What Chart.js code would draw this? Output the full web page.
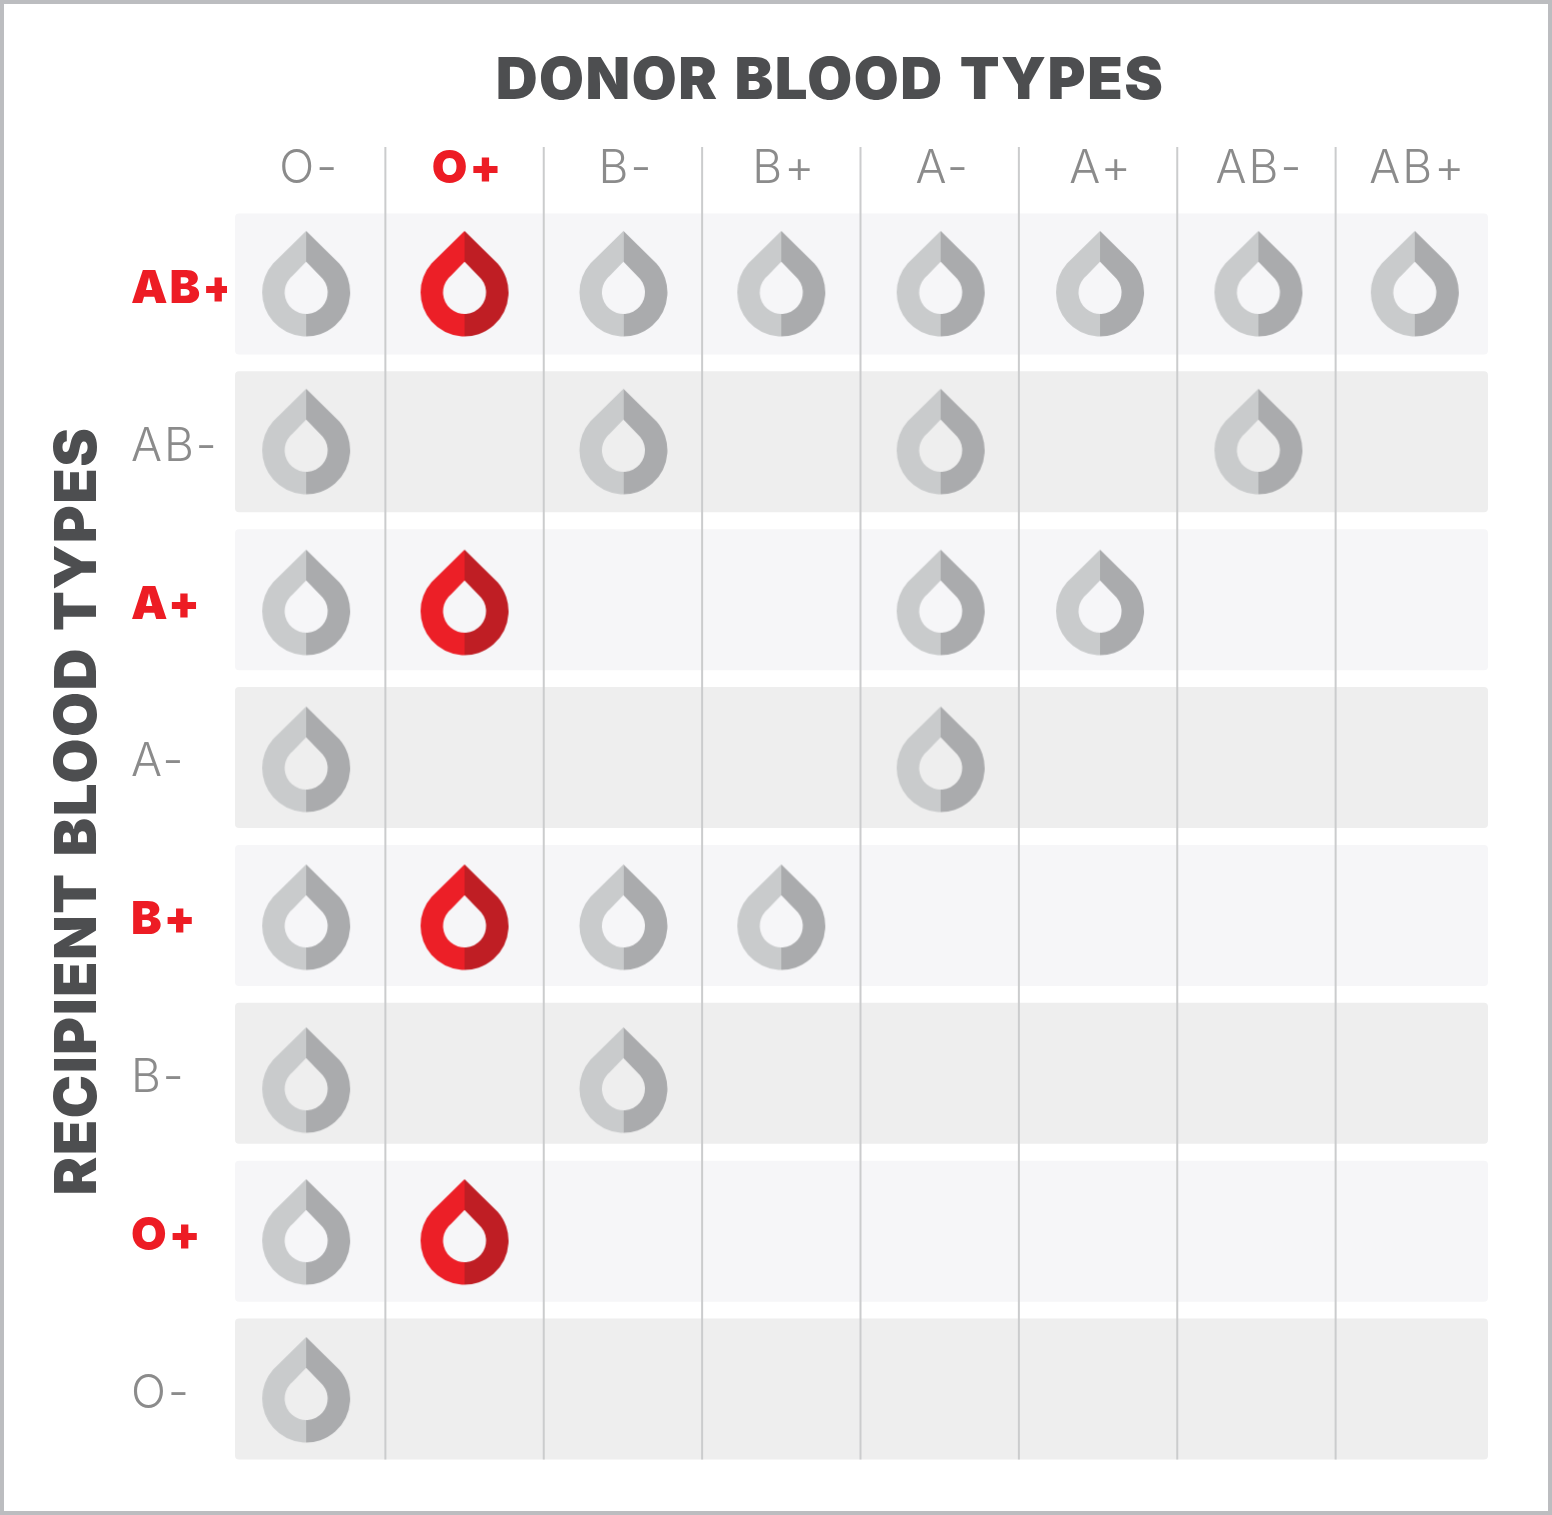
<!DOCTYPE html>
<html>
<head>
<meta charset="utf-8">
<title>Blood type compatibility</title>
<script src="https://cdn.jsdelivr.net/npm/chart.js@4"></script>
<style>
  html, body { margin: 0; background: #fff; }
  canvas { display: block; outline: 4px solid #bcbdc0; outline-offset: -4px; }
</style>
</head>
<body>
<canvas id="chart" width="1552" height="1515"></canvas>
<script>
// ── Data ──────────────────────────────────────────────────────────────────────
const donorTypes     = ['O-', 'O+', 'B-', 'B+', 'A-', 'A+', 'AB-', 'AB+'];
const recipientTypes = ['AB+', 'AB-', 'A+', 'A-', 'B+', 'B-', 'O+', 'O-'];
const redDonors      = ['O+'];
const redRecipients  = ['AB+', 'A+', 'B+', 'O+'];

// which donors each recipient can take blood from
const fromAbPos = ['O-', 'O+', 'B-', 'B+', 'A-', 'A+', 'AB-', 'AB+'];
const fromAbNeg = ['O-', 'B-', 'A-', 'AB-'];
const fromAPos  = ['O-', 'O+', 'A-', 'A+'];
const fromANeg  = ['O-', 'A-'];
const fromBPos  = ['O-', 'O+', 'B-', 'B+'];
const fromBNeg  = ['O-', 'B-'];
const fromOPos  = ['O-', 'O+'];
const fromONeg  = ['O-'];
const donorLists = [fromAbPos, fromAbNeg, fromAPos, fromANeg, fromBPos, fromBNeg, fromOPos, fromONeg];

const xTitle = 'DONOR BLOOD TYPES';
const yTitle = 'RECIPIENT BLOOD TYPES';

// ── Style ─────────────────────────────────────────────────────────────────────
const FONT       = 'Inter, "Liberation Sans", sans-serif';
const TITLE_FONT = `900 58px ${FONT}`;
const DARK       = '#4d4e50';
const GREY_TEXT  = '#8b8b8b';
const RED_TEXT   = '#ed1c24';

// the original artwork is hand placed, so drops sit a few px off the even grid
const ROW_NUDGE = [0, 0, 3, 2, 2, 7, 1, 1];
const COL_NUDGE = [0, 0, 0.5, 0, 1, 2, 2, 0];

function dropImage(leftColor, rightColor, dx, dy) {
  const c = document.createElement('canvas');
  c.width = 110; c.height = 130;
  const ctx = c.getContext('2d');
  const cx = 55 + dx, cy = 65 + 8.5 + dy; // circle centre, drop itself is centred in the canvas

  const shape = new Path2D();
  const a = Math.atan2(-29, 33);
  shape.moveTo(cx, cy - 61.5);
  shape.lineTo(cx + 33, cy - 29);
  shape.arc(cx, cy, 44, a, Math.PI - a);
  shape.closePath();
  const hole = new Path2D();
  const b = Math.atan2(-16.3, 14);
  hole.moveTo(cx, cy - 30.7);
  hole.lineTo(cx + 14, cy - 16.3);
  hole.arc(cx, cy, 21.5, b, Math.PI - b);
  hole.closePath();
  shape.addPath(hole);

  ctx.save();
  ctx.clip(shape, 'evenodd');
  ctx.fillStyle = leftColor;
  ctx.fillRect(0, 0, cx, c.height);
  ctx.fillStyle = rightColor;
  ctx.fillRect(cx, 0, c.width - cx, c.height);
  ctx.restore();
  return c;
}

function dropFor(point, left, right) {
  const dx = COL_NUDGE[donorTypes.indexOf(point.x)];
  const dy = ROW_NUDGE[recipientTypes.indexOf(point.y)];
  return dropImage(left, right, dx, dy);
}

// ── Plugin: row bands, column separators, the two big titles ──────────────────
const tablePlugin = {
  id: 'table',
  beforeDraw(chart) {
    chart.ctx.letterSpacing = '2px'; // tick labels are tracked out in the original
  },
  beforeDatasetsDraw(chart) {
    const { ctx, scales: { x, y } } = chart;
    const half = x.width / donorTypes.length / 2;
    ctx.save();
    recipientTypes.forEach((r, i) => {
      const py = y.getPixelForValue(i);
      ctx.fillStyle = i % 2 ? '#eeeeee' : '#f6f6f8';
      ctx.beginPath();
      ctx.roundRect(x.left + 8, py - 70.5, x.width - 14, 141, 4);
      ctx.fill();
    });
    ctx.strokeStyle = '#cbcccd';
    ctx.lineWidth = 2;
    const bottom = y.getPixelForValue(recipientTypes.length - 1) + 70.5;
    donorTypes.slice(1).forEach((d, i) => {
      const px = x.getPixelForValue(i) + half;
      ctx.beginPath();
      ctx.moveTo(px, 147);
      ctx.lineTo(px, bottom);
      ctx.stroke();
    });
    ctx.restore();
  },
  afterDraw(chart) {
    const { ctx } = chart;
    ctx.save();
    ctx.font = TITLE_FONT;
    ctx.letterSpacing = '1.5px';
    ctx.wordSpacing = '3px';
    ctx.fillStyle = DARK;
    ctx.textAlign = 'center';
    ctx.textBaseline = 'alphabetic';
    ctx.fillText(xTitle, 830, 99);
    ctx.translate(96, 811);
    ctx.rotate(-Math.PI / 2);
    ctx.fillText(yTitle, 0, 0);
    ctx.restore();
  },
};

// ── Chart ─────────────────────────────────────────────────────────────────────
const tickFont = isRed => isRed
  ? { family: FONT, size: 46, weight: '900' }
  : { family: FONT, size: 46, weight: '350' };
const tickColor = isRed => isRed ? RED_TEXT : GREY_TEXT;

const points = recipientTypes.flatMap((r, i) => donorLists[i].map(d => ({ x: d, y: r })));

new Chart(document.getElementById('chart'), {
  type: 'scatter',
  data: {
    datasets: [
      {
        label: 'Other donors',
        data: points.filter(p => !redDonors.includes(p.x)),
        pointStyle: ctx => dropFor(ctx.raw, '#c9cbcc', '#aaabad'),
      },
      {
        label: 'O+ donors',
        data: points.filter(p => redDonors.includes(p.x)),
        pointStyle: ctx => dropFor(ctx.raw, '#ec1f27', '#bf1e24'),
      },
    ],
  },
  plugins: [tablePlugin],
  options: {
    responsive: false,
    devicePixelRatio: 1,
    animation: false,
    events: [],
    layout: { padding: { left: 131, right: 58, top: 141, bottom: 47 } },
    plugins: { legend: { display: false }, tooltip: { enabled: false }, title: { display: false } },
    scales: {
      x: {
        type: 'category',
        position: 'top',
        labels: donorTypes,
        offset: true,
        afterFit: s => { s.height = 64; },
        grid: { display: false, drawTicks: false },
        border: { display: false },
        ticks: {
          autoSkip: false,
          maxRotation: 0,
          padding: 8,
          labelOffset: 3,
          color: ctx => tickColor(redDonors.includes(donorTypes[ctx.index])),
          font: ctx => tickFont(redDonors.includes(donorTypes[ctx.index])),
        },
      },
      y: {
        type: 'category',
        labels: recipientTypes,
        offset: true,
        afterFit: s => { s.width = 96; },
        grid: { display: false, drawTicks: false },
        border: { display: false },
        ticks: {
          autoSkip: false,
          crossAlign: 'far',
          padding: 0,
          labelOffset: 5,
          color: ctx => tickColor(redRecipients.includes(recipientTypes[ctx.index])),
          font: ctx => tickFont(redRecipients.includes(recipientTypes[ctx.index])),
        },
      },
    },
  },
});
</script>
</body>
</html>
